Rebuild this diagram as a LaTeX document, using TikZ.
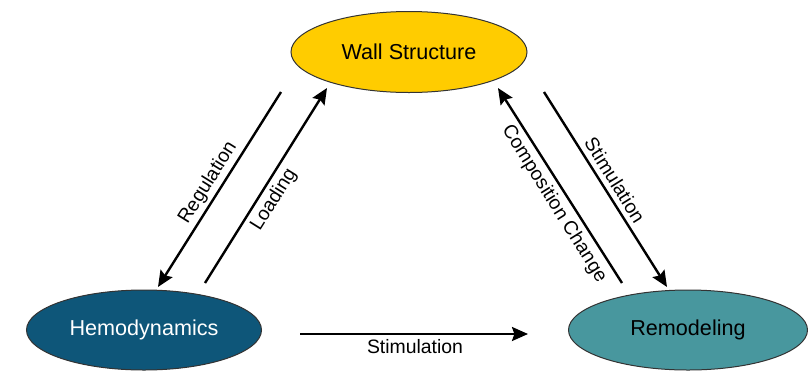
\documentclass[tikz,border=0pt]{standalone}
\usepackage{fontspec}
\setmainfont{Liberation Sans}
\usetikzlibrary{arrows.meta,positioning,calc,shapes.geometric}
\definecolor{wallgold}{RGB}{255,204,0}
\definecolor{hemoblue}{RGB}{14,86,121}
\definecolor{remodteal}{RGB}{72,151,158}

\begin{document}
\begin{tikzpicture}[x=0.5pt,y=-0.5pt,
  blob/.style={ellipse,draw=black!80,line width=0.5pt,inner sep=0pt,
    minimum height=40pt,font=\fontsize{10.8}{13}\selectfont},
  flow/.style={line width=1.2pt,-{Stealth[length=8pt,width=7pt,inset=1.2pt]}},
  lbl/.style={font=\fontsize{9.7}{12}\selectfont,inner sep=0pt}]
  \useasboundingbox (0,0) rectangle (808,370);
  \node[blob,fill=wallgold,minimum width=118pt,minimum height=40.5pt] (wall) at (409,52) {Wall Structure};
  \node[blob,fill=hemoblue,text=white,minimum width=117.5pt] (hemo) at (144,330) {Hemodynamics};
  \node[blob,fill=remodteal,minimum width=119.5pt] (remod) at (688,330) {Remodeling};
  % wall <-> hemodynamics
  \draw[flow] ($(wall)+(-128,40)$) -- ($(hemo)+(14,-43)$);
  \draw[flow] ($(hemo)+(61,-47)$) -- ($(wall)+(-82,36)$);
  \node[lbl,rotate=58] (reg) at (208,183) {Regulation};
  \node[lbl,rotate=58] (load) at (274,200) {Loading};
  % wall <-> remodeling
  \draw[flow] ($(remod)+(-66,-47)$) -- ($(wall)+(89,36)$);
  \draw[flow] ($(wall)+(135,40)$) -- ($(remod)+(-21,-43)$);
  \node[lbl,rotate=-58] (comp) at (554,204) {Composition Change};
  \node[lbl,rotate=-58] (stimr) at (615,180) {Stimulation};
  % hemodynamics -> remodeling
  \draw[flow] ($(hemo)+(156,4)$) -- ($(remod)+(-160,4)$);
  \node[lbl] (stimb) at (415,347) {Stimulation};
\end{tikzpicture}
\end{document}
